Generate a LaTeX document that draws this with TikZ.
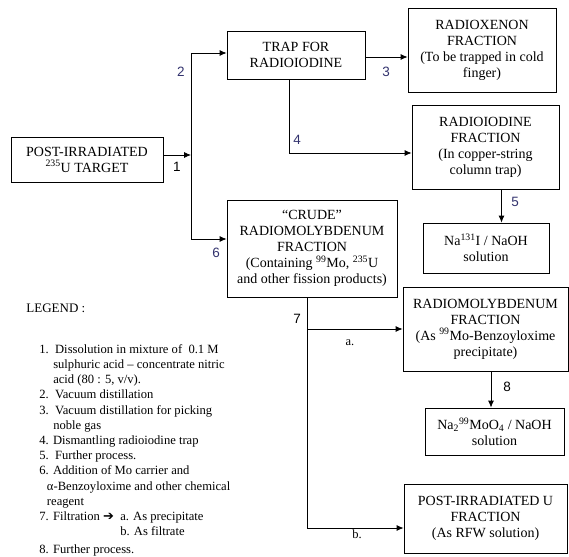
\documentclass[tikz,border=0pt]{standalone}
\usepackage{fontspec}
\setmainfont{Liberation Serif}
\newfontfamily\numfont{Liberation Sans}
\newfontfamily\symfont{DejaVu Sans}
\usetikzlibrary{arrows.meta}
\definecolor{stepblue}{RGB}{51,51,110}

\begin{document}
\begin{tikzpicture}[x=1pt,y=-1pt,line width=0.8pt,
   every node/.style={font=\fontsize{14}{16}\selectfont},
   box/.style={draw,align=center,inner sep=2pt},
   arr/.style={-{Latex[length=7pt,width=6pt]}},
   num/.style={font=\numfont\fontsize{13.5}{15}\selectfont},
   bnum/.style={num,text=stepblue}]
\useasboundingbox (0,0) rectangle (569,556);

% boxes
\node[box,minimum width=152pt,minimum height=45pt] (tgt) at (87,159.5)
   {POST-IRRADIATED\\\textsuperscript{235}U TARGET};
\node[box,minimum width=138pt,minimum height=48pt] (trap) at (296,55)
   {TRAP FOR\\RADIOIODINE};
\node[box,minimum width=148pt,minimum height=84pt] (xenon) at (482,50)
   {RADIOXENON\\FRACTION\\(To be trapped in cold\\finger)};
\node[box,minimum width=147pt,minimum height=84pt] (iodine) at (485.5,147)
   {RADIOIODINE\\FRACTION\\(In copper-string\\column trap)};
\node[box,minimum width=126pt,minimum height=50pt] (nai) at (486,248)
   {Na\textsuperscript{131}I / NaOH\\solution};
\node[box,minimum width=170pt,minimum height=97pt] (crude) at (312,248.5)
   {“CRUDE”\\RADIOMOLYBDENUM\\FRACTION\\(Containing \textsuperscript{99}Mo, \textsuperscript{235}U\\and other fission products)};
\node[box,minimum width=165pt,minimum height=84pt] (moly) at (485.5,329)
   {RADIOMOLYBDENUM\\FRACTION\\(As \textsuperscript{99}Mo-Benzoyloxime\\precipitate)};
\node[box,minimum width=139pt,minimum height=47pt] (namo) at (494.5,431.5)
   {Na\textsubscript{2}\textsuperscript{99}MoO\textsubscript{4} / NaOH\\solution};
\node[box,minimum width=163pt,minimum height=69pt] (ufrac) at (485.5,518.5)
   {POST-IRRADIATED U\\FRACTION\\(As RFW solution)};

% connectors
\coordinate (j) at (191,155);
\draw[arr] (tgt.east |- j) -- (j);
\draw[arr] (j) |- ([yshift=2pt]trap.west);
\draw[arr] (j) |- ([yshift=9.5pt]crude.west);
\draw[arr] ([yshift=-2pt]trap.east) -- ([yshift=-2pt]trap.east -| xenon.west);
\draw[arr] ([xshift=-7pt]trap.south) |- ([yshift=-6pt]iodine.west);
\draw[arr] ([xshift=16pt]iodine.south) -- ([xshift=16pt]iodine.south |- nai.north);
\draw[arr] ([xshift=-5pt]crude.south) |- (moly.west);
\draw[arr] ([xshift=-5pt]crude.south) |- ([yshift=-9.5pt]ufrac.west);
\draw[arr] ([xshift=5.5pt]moly.south) -- ([xshift=5.5pt]moly.south |- namo.north);

% step labels
\node[num] (l1) at (177,167) {1};
\node[bnum] (l2) at (181,72) {2};
\node[bnum] (l3) at (386,72) {3};
\node[bnum] (l4) at (297,140) {4};
\node[bnum] (l5) at (515,202) {5};
\node[bnum] (l6) at (216,253) {6};
\node[num] (l7) at (297,319) {7};
\node[font=\fontsize{12.5}{15}\selectfont] (la) at (350,343) {a.};
\node[font=\fontsize{12.5}{15}\selectfont] (lb) at (357,534) {b.};
\node[num] (l8) at (507,387) {8};

% legend
\node[anchor=west,inner sep=0pt,font=\fontsize{13}{15}\selectfont] (leg) at (26,308) {LEGEND :};
\node[anchor=north west,align=left,inner sep=0pt,font=\fontsize{12.6}{15.2}\selectfont] (items) at (39,344)
   {1.\ \ Dissolution in mixture of\ \ 0.1 M\\
    \hspace*{1.1em}sulphuric acid – concentrate nitric\\
    \hspace*{1.1em}acid (80 : 5, v/v).\\
    2.\ \ Vacuum distillation\\
    3.\ \ Vacuum distillation for picking\\
    \hspace*{1.1em}noble gas\\
    4. Dismantling radioiodine trap\\
    5.\ \ Further process.\\
    6. Addition of Mo carrier and\\
    \hspace*{0.6em}α-Benzoyloxime and other chemical\\
    \hspace*{0.6em}reagent\\
    7. Filtration {\symfont\fontsize{13}{15}\selectfont ➔}\ \ a. As precipitate\\
    \phantom{7. Filtration {\symfont\fontsize{13}{15}\selectfont ➔}\ \ }b. As filtrate\\[3pt]
    8. Further process.};
\end{tikzpicture}
\end{document}
